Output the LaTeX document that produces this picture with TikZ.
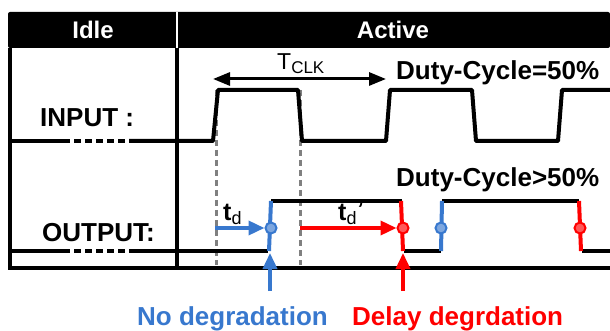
\documentclass[tikz,border=0pt]{standalone}
\usepackage{fontspec}
\setmainfont{Liberation Sans}
\usetikzlibrary{arrows.meta}
\definecolor{nblue}{RGB}{56,120,206}
\definecolor{dred}{RGB}{255,0,0}
\definecolor{guide}{RGB}{128,128,128}
\tikzset{
  wave/.style={line width=4pt,line join=round},
  grid/.style={line width=3.5pt},
  lbl/.style={font=\fontsize{26}{30}\selectfont\bfseries,inner sep=0pt},
  head/.style={font=\fontsize{24}{28}\selectfont\bfseries,text=white,inner sep=0pt},
  tip/.style={-{Triangle[length=16pt,width=14pt]},line width=3.5pt},
  mark circ/.style={circle,draw=#1,fill=#1!65!white,line width=2pt,minimum size=11pt,inner sep=0pt}
}
\begin{document}
\begin{tikzpicture}[x=1pt,y=-1pt]
\useasboundingbox (0,0) rectangle (610,331);

% table
\fill[rounded corners=2pt] (8,48) -- (8,12) -- (610,12) -- (610,48) -- cycle;
\draw[white,line width=2pt] (177,12) -- (177,48);
\draw[grid] (10,48) -- (10,268) -- (610,268);
\draw[grid] (177,48) -- (177,268);
\node[head] (idle) at (93,30) {Idle};
\node[head] (active) at (393,30) {Active};

% guides
\draw[guide,dash pattern=on 6pt off 4pt,line width=3pt] (216,90) -- (216,265);
\draw[guide,dash pattern=on 6pt off 4pt,line width=3pt] (300,90) -- (300,265);

% input
\draw[wave] (10,141) -- (70,141);
\draw[wave,dash pattern=on 7pt off 4pt] (74,141) -- (127,141);
\draw[wave] (129,141) -- (213,141) -- (218,90) -- (298,90) -- (302,141)
  -- (386,141) -- (390,90) -- (472,90) -- (476,141) -- (558,141) -- (562,90) -- (610,90);
\node[lbl,anchor=base west] (inp) at (40,127) {INPUT :};
\node[lbl,anchor=base west] (duty1) at (396,80) {Duty-Cycle=50\%};
\coordinate (clkL) at (213,79);
\coordinate (clkR) at (386,79);
\draw[{Triangle[length=17pt,width=13pt]}-{Triangle[length=17pt,width=13pt]},line width=3pt] (clkL) -- (clkR);
\node[inner sep=0pt,anchor=base west,font=\fontsize{23}{26}\selectfont] (tclk) at (277,70) {T\textsubscript{\fontsize{17}{18}\selectfont CLK}};

% output
\draw[wave] (10,251) -- (70,251);
\draw[wave,dash pattern=on 7pt off 4pt] (74,251) -- (127,251);
\draw[wave] (129,251) -- (268,251);
\draw[wave] (271,201) -- (402,201);
\draw[wave] (404,251) -- (441,251);
\draw[wave] (442,201) -- (579,201);
\draw[wave] (582,251) -- (610,251);
\draw[nblue,wave] (269,251) -- (271,201);
\draw[dred,wave] (401,201) -- (403,251);
\draw[nblue,wave] (441,251) -- (442,201);
\draw[dred,wave] (579,201) -- (581,251);
\node[mark circ=nblue] (c1) at (271,228) {};
\node[mark circ=dred] (c2) at (403,228) {};
\node[mark circ=nblue] (c3) at (441,228) {};
\node[mark circ=dred] (c4) at (580,228) {};
\node[lbl,anchor=base west] (outp) at (42,241) {OUTPUT:};
\node[lbl,anchor=base west] (duty2) at (396,187) {Duty-Cycle>50\%};

% delays
\coordinate (tdA) at (215,228);
\coordinate (tdB) at (300,228);
\draw[tip,nblue] (tdA) -- (c1.west);
\draw[tip,dred] (tdB) -- (c2.west);
\node[inner sep=0pt,anchor=base west,font=\fontsize{25}{28}\selectfont\bfseries] (td) at (223,220) {t\textsubscript{\fontsize{18}{20}\selectfont\mdseries d}};
\node[inner sep=0pt,anchor=base west,font=\fontsize{25}{28}\selectfont\bfseries] (tdp) at (338,220) {t\textsubscript{\fontsize{18}{20}\selectfont\mdseries d}\raisebox{3pt}{’}};

% pointers
\coordinate (nb) at (270,291);
\coordinate (nt) at (270,253);
\coordinate (db) at (403,291);
\coordinate (dt) at (403,253);
\draw[tip,nblue] (nb) -- (nt);
\draw[tip,dred] (db) -- (dt);
\node[lbl,nblue,anchor=base west] (nodeg) at (137,325) {No degradation};
\node[lbl,dred,anchor=base west] (deldeg) at (352,325) {Delay degrdation};
\end{tikzpicture}
\end{document}
